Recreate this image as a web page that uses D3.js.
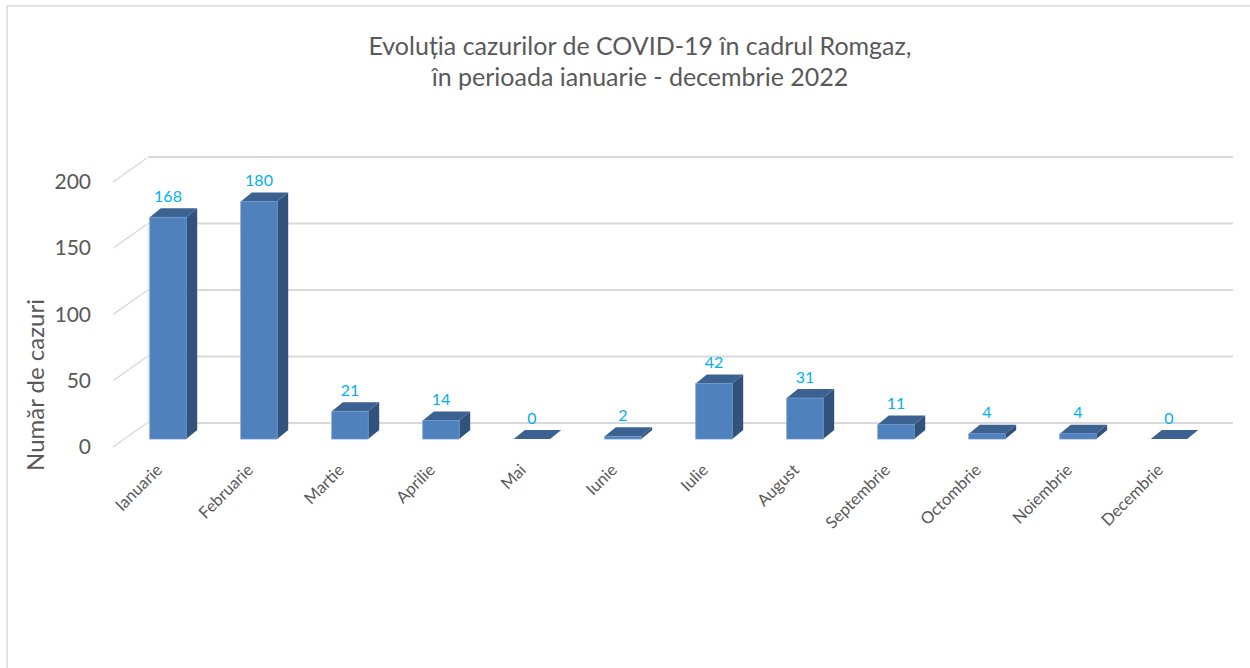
<!DOCTYPE html>
<html>
<head>
<meta charset="utf-8">
<script src="https://cdn.jsdelivr.net/npm/d3@7"></script>
<style>
  body { margin: 0; background: #fff; }
  svg text { font-family: Lato, "Open Sans", sans-serif; }
</style>
</head>
<body>
<svg id="chart"></svg>
<script>
// data
const months = ["Ianuarie", "Februarie", "Martie", "Aprilie", "Mai", "Iunie",
                "Iulie", "August", "Septembrie", "Octombrie", "Noiembrie", "Decembrie"];
const cases = [168, 180, 21, 14, 0, 2, 42, 31, 11, 4, 4, 0];
const yTicks = [0, 50, 100, 150, 200];
const titleLines = ["Evoluția cazurilor de COVID-19 în cadrul Romgaz,",
                    "în perioada ianuarie - decembrie 2022"];
const yTitle = "Număr de cazuri";

const W = 1250, H = 668;
const depth = { dx: 11, dy: -9 };   // bar depth
const wall = { dx: 34, dy: -24 };   // side wall diagonal

const svg = d3.select("#chart").attr("width", W).attr("height", H);

// outer border (only top/left visible in the picture)
svg.append("rect")
  .attr("x", 7).attr("y", 6).attr("width", W + 20).attr("height", H + 20)
  .attr("fill", "none").attr("stroke", "#d9d9d9").attr("stroke-width", 1.5);

// scales
const x = d3.scaleBand().domain(months).range([122.5, 1214.5])
  .paddingInner(0.6).paddingOuter(0.3);
const yFront = d3.scaleLinear().domain([0, 200]).range([439, 175]);
const yBack = d3.scaleLinear().domain([0, 200]).range([423, 157]);
const yAxisScale = d3.scaleLinear().domain([0, 200]).range([447, 182]);

// title
svg.append("text")
  .attr("x", 640).attr("y", 55)
  .attr("text-anchor", "middle")
  .attr("fill", "#595959")
  .style("font-size", "25px")
  .selectAll("tspan").data(titleLines).join("tspan")
  .attr("x", 640).attr("dy", (d, i) => i ? 31 : 0)
  .text(d => d);

// back wall grid
const grid = svg.append("g");
grid.selectAll(".grid").data(yTicks).join("line")
  .attr("x1", 148).attr("x2", 1233)
  .attr("y1", d => yBack(d)).attr("y2", d => yBack(d))
  .attr("stroke", "#d9d9d9").attr("stroke-width", 2);
// side wall diagonals
const wallX0 = 113;
grid.selectAll(".diag").data(yTicks).join("line")
  .attr("x1", wallX0).attr("y1", d => yAxisScale(d))
  .attr("x2", wallX0 + wall.dx).attr("y2", d => yAxisScale(d) + wall.dy)
  .attr("stroke", "#d9d9d9").attr("stroke-width", 1.5);
grid.append("line")
  .attr("x1", 148).attr("x2", 148)
  .attr("y1", yBack(150)).attr("y2", yBack(0))
  .attr("stroke", "#e4e4e4").attr("stroke-width", 1);

// y axis labels
const yAxis = svg.append("g")
  .attr("transform", "translate(91,0)")
  .call(d3.axisLeft(yAxisScale).tickValues(yTicks).tickSize(0).tickPadding(0));
yAxis.select(".domain").remove();
yAxis.selectAll("text")
  .attr("fill", "#595959")
  .style("font-size", "21px")
  .style("font-family", "Lato, sans-serif");

svg.append("text")
  .attr("transform", "translate(44,385) rotate(-90)")
  .attr("text-anchor", "middle")
  .attr("fill", "#595959")
  .style("font-size", "24px")
  .text(yTitle);

// bars
const bw = x.bandwidth();
const bars = svg.append("g").selectAll("g").data(cases).join("g");

// side face
bars.append("path")
  .attr("d", (d, i) => {
    const x1 = x(months[i]) + bw, yt = yFront(d), yb = yFront(0);
    return `M${x1},${yb}L${x1},${yt}L${x1 + depth.dx},${yt + depth.dy}L${x1 + depth.dx},${yb + depth.dy}Z`;
  })
  .attr("fill", "#31527b");
// top face
bars.append("path")
  .attr("d", (d, i) => {
    const x0 = x(months[i]), yt = yFront(d);
    return `M${x0},${yt}L${x0 + bw},${yt}L${x0 + bw + depth.dx},${yt + depth.dy}L${x0 + depth.dx},${yt + depth.dy}Z`;
  })
  .attr("fill", "#3c6291");
// front face
bars.append("rect")
  .attr("x", (d, i) => x(months[i]))
  .attr("y", d => yFront(d))
  .attr("width", bw)
  .attr("height", d => yFront(0) - yFront(d))
  .attr("fill", "#4f81bd")
  .attr("stroke", "#6f98cc").attr("stroke-width", 0.8);

// data labels
svg.append("g").selectAll("text").data(cases).join("text")
  .attr("x", (d, i) => x(months[i]) + bw / 2)
  .attr("y", d => yFront(d) + depth.dy - 12)
  .attr("dy", "0.35em")
  .attr("text-anchor", "middle")
  .attr("fill", "#00b0f0")
  .style("font-size", "16px")
  .text(d => d);

// category labels
svg.append("g").selectAll("text").data(months).join("text")
  .attr("transform", d => `translate(${x(d) + bw / 2 - 9},${467}) rotate(-45)`)
  .attr("text-anchor", "end")
  .attr("dy", "0.35em")
  .attr("fill", "#595959")
  .style("font-size", "16.5px")
  .text(d => d);
</script>
</body>
</html>
